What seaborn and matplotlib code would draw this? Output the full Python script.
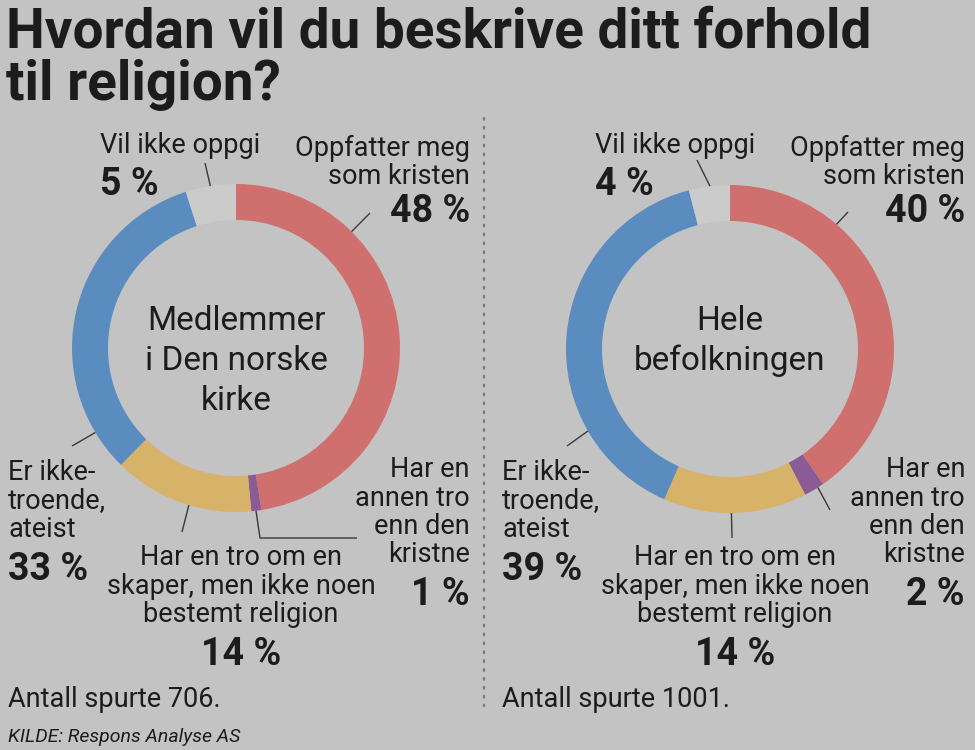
import numpy as np
import matplotlib
matplotlib.use("Agg")
import matplotlib.pyplot as plt
import seaborn as sns

# ---- data -------------------------------------------------------------
categories = [
    "Oppfatter meg som kristen",
    "Har en annen tro enn den kristne",
    "Har en tro om en skaper, men ikke noen bestemt religion",
    "Er ikke-troende, ateist",
    "Vil ikke oppgi",
]
church_pct = [48, 1, 14, 33, 5]
population_pct = [40, 2, 14, 39, 4]
church_n = 706
population_n = 1001
center_titles = ["Medlemmer\ni Den norske\nkirke", "Hele\nbefolkningen"]

title_lines = ["Hvordan vil du beskrive ditt forhold", "til religion?"]
source_text = "KILDE: Respons Analyse AS"

# ---- style ------------------------------------------------------------
BG = "#c3c3c3"
INK = "#1c1c1c"
palette = sns.color_palette(["#d0706e", "#8a5b95", "#d7b36a", "#5b8cbf", "#cbcbcb"])

sns.set_theme(style="white")
plt.rcParams["font.family"] = ["Roboto", "DejaVu Sans"]

fig = plt.figure(figsize=(9.75, 7.5), dpi=100, facecolor=BG)
ax = fig.add_axes([0, 0, 1, 1])
ax.set_facecolor(BG)

R_OUT, RING = 164, 36
LABEL_FS, PCT_FS, CENTER_FS = 19.5, 27, 24
PITCH = 28.5


def ring_point(cx, cy, ang, r=R_OUT):
    a = np.deg2rad(ang)
    return cx + r * np.sin(a), cy - r * np.cos(a)


def lines_text(x, y0, text, pitch=PITCH, **kw):
    for i, line in enumerate(text.split("\n")):
        ax.text(x, y0 + i * pitch, line, va="baseline", color=INK, **kw)


def leader(cx, cy, ang, *pts):
    x0, y0 = ring_point(cx, cy, ang)
    xs = [x0] + [p[0] for p in pts]
    ys = [y0] + [p[1] for p in pts]
    ax.plot(xs, ys, color="#3a3a3a", lw=1.0, solid_capstyle="butt")


panels = [
    dict(vals=church_pct, n=church_n, cx=236, cy=348, left=8, right=470,
         top_left=100, mid=241, center_y=330, center=center_titles[0],
         leaders=[(44.8, [(370, 213)]), (173, [(260, 538), (357, 538)]),
                  (196.7, [(182, 532)]), (239, [(72, 446)]), (-9, [(205, 163)])]),
    dict(vals=population_pct, n=population_n, cx=730, cy=349, left=502, right=965,
         top_left=595, mid=735, center_y=330, center=center_titles[1],
         leaders=[(40.5, [(848, 212)]), (147.6, [(830, 510)]),
                  (179.5, [(732, 538)]), (240, [(567, 446)]), (-7, [(697, 160)])]),
]

for p in panels:
    cx, cy = p["cx"], p["cy"]
    ax.pie(p["vals"], colors=palette, startangle=-90, counterclock=True,
           radius=R_OUT, center=(cx, cy), normalize=True,
           wedgeprops=dict(width=RING, linewidth=0))
    pct = [f"{v} %" for v in p["vals"]]

    # centre caption
    lines_text(cx, p["center_y"], p["center"], pitch=40, ha="center",
               fontsize=CENTER_FS)

    # Oppfatter meg som kristen
    lines_text(p["right"], 156, "Oppfatter meg\nsom kristen", ha="right", fontsize=LABEL_FS)
    ax.text(p["right"], 222, pct[0], ha="right", va="baseline", color=INK,
            fontsize=PCT_FS, fontweight="bold")
    # Vil ikke oppgi
    lines_text(p["top_left"], 153, "Vil ikke oppgi", ha="left", fontsize=LABEL_FS)
    ax.text(p["top_left"], 195, pct[4], ha="left", va="baseline", color=INK,
            fontsize=PCT_FS, fontweight="bold")
    # Er ikke-troende, ateist
    lines_text(p["left"], 480, "Er ikke-\ntroende,\nateist", ha="left", fontsize=LABEL_FS)
    ax.text(p["left"], 580, pct[3], ha="left", va="baseline", color=INK,
            fontsize=PCT_FS, fontweight="bold")
    # Har en annen tro enn den kristne
    lines_text(p["right"], 477, "Har en\nannen tro\nenn den\nkristne", ha="right",
               fontsize=LABEL_FS)
    ax.text(p["right"], 605, pct[1], ha="right", va="baseline", color=INK,
            fontsize=PCT_FS, fontweight="bold")
    # Har en tro om en skaper ...
    lines_text(p["mid"], 565, "Har en tro om en\nskaper, men ikke noen\nbestemt religion",
               ha="center", fontsize=LABEL_FS)
    ax.text(p["mid"], 665, pct[2], ha="center", va="baseline", color=INK,
            fontsize=PCT_FS, fontweight="bold")
    # sample size
    ax.text(p["left"], 707, f"Antall spurte {p['n']}.", ha="left", va="baseline",
            color=INK, fontsize=LABEL_FS)

    for ang, pts in p["leaders"]:
        leader(cx, cy, ang, *pts)

# dotted divider
ax.plot([484, 484], [118, 706], color="#7a7a7a", lw=1.6, linestyle=(0, (0.8, 3.2)),
        dash_capstyle="round")

# title
for i, line in enumerate(title_lines):
    ax.text(6, 47 + i * 53, line, ha="left", va="baseline", color=INK, fontsize=39.5,
            fontweight="bold")

ax.text(8, 742, source_text, ha="left", va="baseline", color=INK, fontsize=14,
        style="italic")

ax.set_xlim(0, 975)
ax.set_ylim(750, 0)
ax.set_aspect("equal")
ax.axis("off")

fig.savefig("out.png", dpi=100, facecolor=BG)
